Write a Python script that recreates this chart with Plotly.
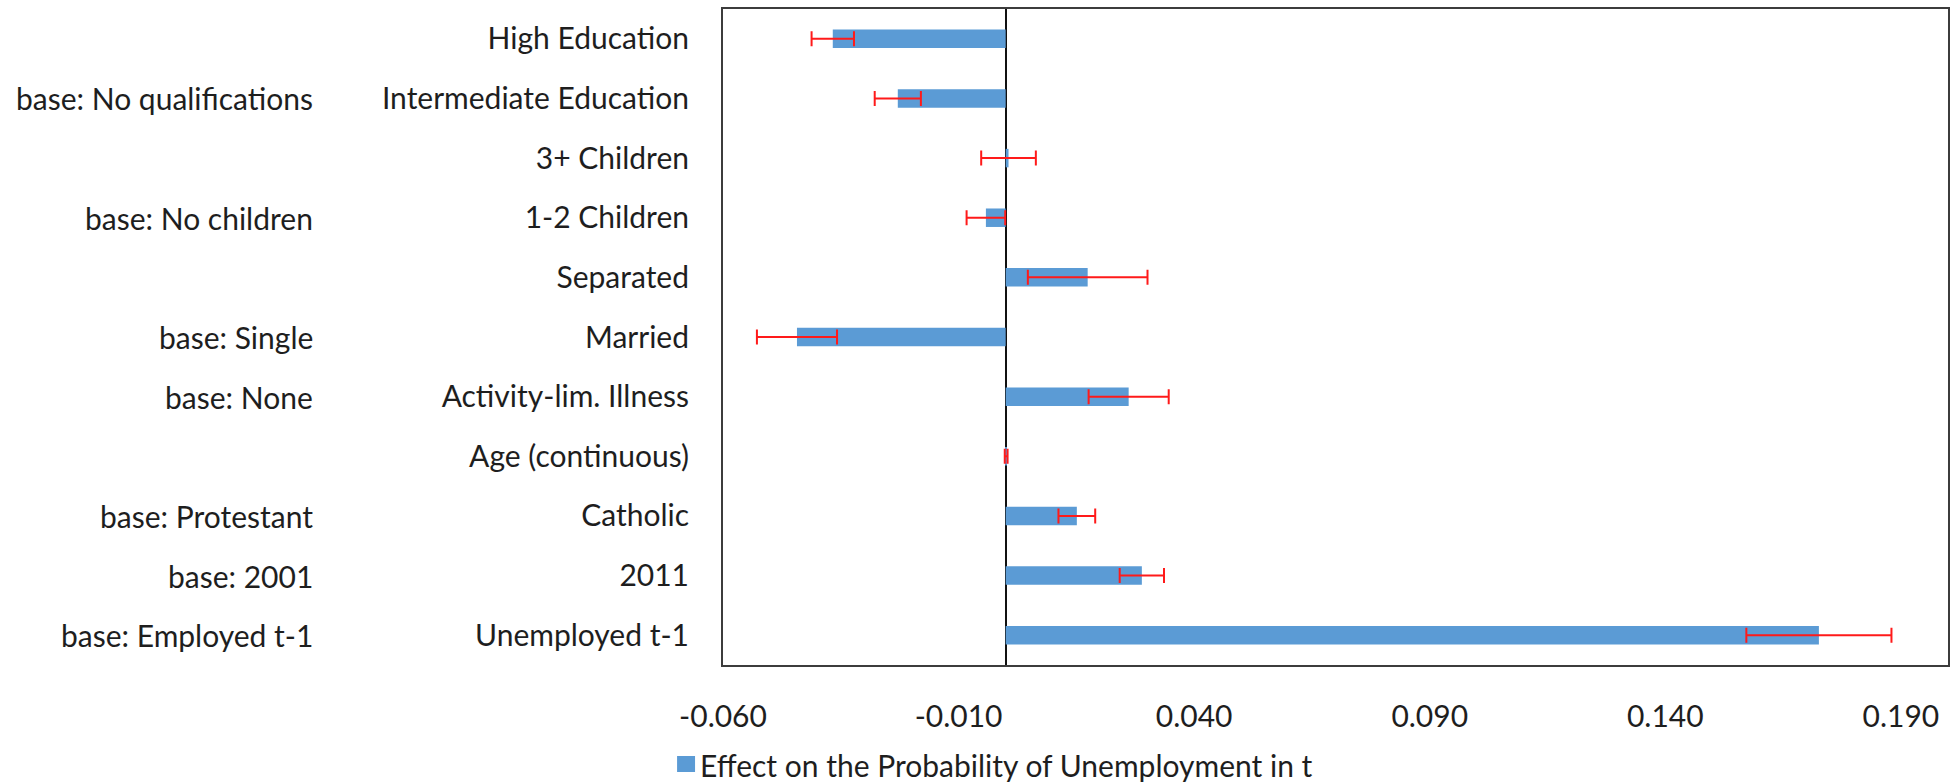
import plotly.graph_objects as go

# Marginal effects on the probability of unemployment in t
categories = [
    "High Education",
    "Intermediate Education",
    "3+ Children",
    "1-2 Children",
    "Separated",
    "Married",
    "Activity-lim. Illness",
    "Age (continuous)",
    "Catholic",
    "2011",
    "Unemployed t-1",
]
effects = [-0.0367, -0.0229, 0.0006, -0.0042, 0.0174, -0.0443,
           0.0261, 0.0001, 0.0151, 0.0289, 0.1726]
errors = [0.0045, 0.0049, 0.0058, 0.0041, 0.0127, 0.0085,
          0.0085, 0.0003, 0.0039, 0.0047, 0.0154]

# Reference-category labels shown left of the variable names
base_labels = {
    "Intermediate Education": "base: No qualifications",
    "1-2 Children": "base: No children",
    "Married": "base: Single",
    "Activity-lim. Illness": "base: None",
    "Catholic": "base: Protestant",
    "2011": "base: 2001",
    "Unemployed t-1": "base: Employed t-1",
}

tick_values = [-0.06, -0.01, 0.04, 0.09, 0.14, 0.19]
x_range = [-0.06, 0.20]
series_name = "Effect on the Probability of Unemployment in t"

W, H = 1952, 782
L, R, T, B = 723, 2, 9, 117
PW, PH = W - L - R, H - T - B

FONT = "Lato"
FS = 30
TXT = "#1e1e1e"
BLUE = "#5B9BD5"


def px_x(px):
    return (px - L) / PW


def px_y(py):
    return (H - B - py) / PH


fig = go.Figure()
fig.add_trace(go.Bar(
    x=effects,
    y=categories,
    orientation="h",
    width=0.31,
    marker=dict(color=BLUE, line=dict(width=0)),
    error_x=dict(type="data", array=errors, visible=True,
                 color="#FF1A1A", thickness=2, width=7.5),
    name=series_name,
    showlegend=False,
))

annotations = []
for cat, txt in base_labels.items():
    # category position given by index so numeric-looking names stay categories
    annotations.append(dict(
        x=px_x(314), xref="paper", y=categories.index(cat), yref="y",
        text=txt, showarrow=False, xanchor="right", yanchor="middle",
        font=dict(family=FONT, size=FS, color=TXT),
    ))

# Legend entry drawn below the axis
annotations.append(dict(
    x=px_x(698), xref="paper", y=px_y(765), yref="paper",
    text=series_name, showarrow=False, xanchor="left", yanchor="middle",
    font=dict(family=FONT, size=FS, color=TXT),
))
shapes = [dict(
    type="rect", xref="paper", yref="paper",
    x0=px_x(677), x1=px_x(695), y0=px_y(772), y1=px_y(756),
    fillcolor=BLUE, line=dict(width=0),
)]

fig.update_layout(
    width=W, height=H,
    margin=dict(l=L, r=R, t=T, b=B, pad=0),
    paper_bgcolor="white", plot_bgcolor="white",
    font=dict(family=FONT, size=FS, color=TXT),
    annotations=annotations,
    shapes=shapes,
    xaxis=dict(
        range=x_range,
        tickvals=tick_values,
        ticktext=[f"{v:.3f}" for v in tick_values],
        showgrid=False,
        zeroline=True, zerolinecolor="#111111", zerolinewidth=2,
        showline=True, mirror=True, linecolor="#3c3c3c", linewidth=2,
        ticks="", ticklabelstandoff=24,
        tickfont=dict(family=FONT, size=FS, color=TXT),
    ),
    yaxis=dict(
        type="category",
        categoryorder="array", categoryarray=categories,
        range=[len(categories) - 0.5, -0.5],
        showgrid=False, zeroline=False,
        showline=True, mirror=True, linecolor="#3c3c3c", linewidth=2,
        ticks="", ticklabelstandoff=26,
        tickfont=dict(family=FONT, size=FS, color=TXT),
    ),
)

fig.write_html("out.html")
